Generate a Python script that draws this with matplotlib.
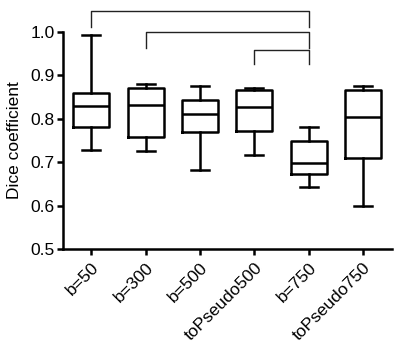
import matplotlib.pyplot as plt

plt.rcParams['font.family'] = ['Liberation Sans', 'DejaVu Sans']

labels = ['b=50', 'b=300', 'b=500', 'toPseudo500', 'b=750', 'toPseudo750']
whislo = [0.729, 0.727, 0.681, 0.716, 0.643, 0.600]
q1 = [0.782, 0.759, 0.770, 0.772, 0.674, 0.710]
med = [0.830, 0.831, 0.811, 0.827, 0.698, 0.804]
q3 = [0.860, 0.871, 0.843, 0.867, 0.748, 0.867]
whishi = [0.993, 0.880, 0.876, 0.871, 0.782, 0.876]

# significance brackets: (left group, right group, top y, leg bottom y)
brackets = [(1, 5, 1.048, 1.011), (2, 5, 1.000, 0.963), (4, 5, 0.959, 0.926)]

stats = []
for i in range(len(labels)):
    stats.append(dict(whislo=whislo[i], q1=q1[i], med=med[i], q3=q3[i],
                      whishi=whishi[i], fliers=[], label=labels[i]))

fig = plt.figure(figsize=(4.0, 3.43), dpi=100)
ax = fig.add_axes([0.1575, 0.274, 0.8225, 0.6325])

lw = 1.8
ax.bxp(stats, positions=range(1, 7), widths=0.66, showfliers=False,
       boxprops=dict(color='black', linewidth=lw),
       medianprops=dict(color='black', linewidth=lw),
       whiskerprops=dict(color='black', linewidth=lw),
       capprops=dict(color='black', linewidth=lw),
       capwidths=0.33)

for a, b, top, leg in brackets:
    ax.plot([a, a, b, b], [leg, top, top, leg], color='#222222',
            linewidth=1.0, clip_on=False)

ax.set_xlim(0.48, 6.53)
ax.set_ylim(0.5, 1.0)
ax.set_yticks([0.5, 0.6, 0.7, 0.8, 0.9, 1.0])
ax.set_yticklabels(['0.5', '0.6', '0.7', '0.8', '0.9', '1.0'], fontsize=12.5)
ax.set_xticks(range(1, 7))
ax.set_xticklabels(labels, rotation=45, ha='right', rotation_mode='anchor',
                   fontsize=12.5)
ax.set_ylabel('Dice coefficient', fontsize=12.5, labelpad=6)

for s in ['top', 'right']:
    ax.spines[s].set_visible(False)
for s in ['left', 'bottom']:
    ax.spines[s].set_linewidth(1.8)
ax.tick_params(width=1.8, length=4, direction='out', pad=2)
ax.tick_params(axis='x', pad=4)

fig.savefig('out.png', dpi=100)
